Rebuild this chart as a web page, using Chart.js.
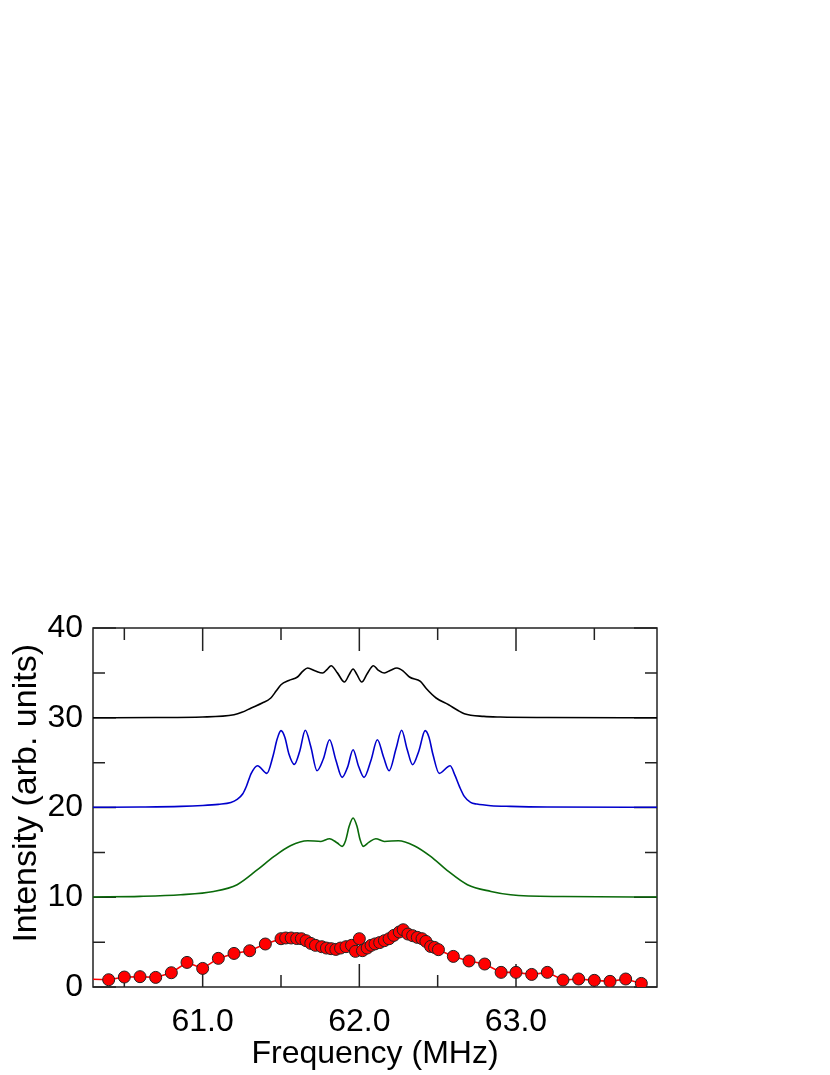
<!DOCTYPE html>
<html>
<head>
<meta charset="utf-8">
<script src="https://cdn.jsdelivr.net/npm/chart.js@4.4.0/dist/chart.umd.min.js"></script>
<style>
	html, body { margin: 0; padding: 0; background: #fff; }
	#wrap { width: 830px; height: 1075px; }
</style>
</head>
<body>
<div id="wrap"><canvas id="graphOne"></canvas></div>
<script>
// measured spectrum (red dots)
const expFreq = [60.25, 60.40, 60.50, 60.60, 60.70, 60.80, 60.90, 61.00, 61.10, 61.20, 61.30, 61.40,
	61.50, 61.53, 61.565, 61.60, 61.63, 61.66, 61.69, 61.72, 61.76, 61.79, 61.82, 61.85, 61.88,
	61.915, 61.95, 61.975, 62.00, 62.02, 62.05, 62.075, 62.10, 62.13, 62.16, 62.19, 62.22, 62.255,
	62.28, 62.31, 62.34, 62.37, 62.40, 62.425, 62.455, 62.48, 62.505, 62.60, 62.70, 62.80, 62.905,
	63.00, 63.10, 63.20, 63.30, 63.40, 63.50, 63.60, 63.70, 63.80];
const expInt = [0.9, 0.81, 1.11, 1.15, 1.07, 1.59, 2.74, 2.07, 3.19, 3.74, 4.04, 4.79,
	5.38, 5.46, 5.46, 5.40, 5.38, 5.16, 4.86, 4.64, 4.49, 4.34, 4.27, 4.19, 4.34,
	4.49, 4.64, 3.97, 5.38, 4.05, 4.34, 4.64, 4.80, 4.95, 5.16, 5.38, 5.75, 6.13,
	6.38, 5.90, 5.72, 5.53, 5.38, 5.08, 4.52, 4.41, 4.16, 3.41, 2.90, 2.56, 1.63,
	1.63, 1.40, 1.63, 0.78, 0.89, 0.74, 0.63, 0.89, 0.40];

// simulation, offset +10 (green)
const greenFreq = [60.30, 60.60, 60.86, 61.07, 61.22, 61.35, 61.456, 61.56, 61.67, 61.755, 61.81,
	61.86, 61.89, 61.912, 61.935, 61.96, 61.985, 62.005, 62.025, 62.06, 62.105, 62.16, 62.25, 62.35,
	62.455, 62.56, 62.69, 62.84, 62.965, 63.30, 63.90];
const greenInt = [10.03, 10.10, 10.28, 10.65, 11.40, 13.07, 14.55, 15.74, 16.30, 16.22, 16.52,
	16.04, 15.67, 16.30, 17.90, 18.83, 17.90, 16.40, 15.67, 16.11, 16.52, 16.22, 16.30, 15.74,
	14.55, 13.00, 11.40, 10.65, 10.28, 10.08, 10.03];

// simulation, offset +20 (blue)
const blueFreq = [60.30, 60.60, 60.86, 61.00, 61.10, 61.18, 61.22, 61.255, 61.28, 61.31, 61.35,
	61.41, 61.45, 61.475, 61.50, 61.525, 61.55, 61.585, 61.62, 61.655, 61.69, 61.73, 61.77, 61.81,
	61.85, 61.89, 61.925, 61.96, 61.995, 62.03, 62.075, 62.115, 62.155, 62.19, 62.235, 62.27,
	62.305, 62.34, 62.38, 62.42, 62.445, 62.47, 62.51, 62.58, 62.61, 62.64, 62.67, 62.71, 62.75,
	62.84, 62.965, 63.20, 63.90];
const blueInt = [20.02, 20.05, 20.12, 20.22, 20.35, 20.55, 20.90, 21.50, 22.40, 23.80, 24.66,
	23.80, 25.80, 27.60, 28.56, 27.80, 26.00, 24.80, 26.30, 28.60, 26.80, 24.10, 25.40, 27.55,
	25.30, 23.36, 24.50, 26.44, 24.60, 23.36, 25.30, 27.55, 25.60, 24.10, 26.60, 28.60,
	26.50, 24.77, 26.30, 28.56, 27.80, 25.90, 23.80, 24.66, 23.60, 22.30, 21.24, 20.57, 20.38,
	20.20, 20.12, 20.05, 20.02];

// simulation, offset +30 (black)
const blackFreq = [60.30, 60.70, 61.00, 61.20, 61.25, 61.31, 61.38, 61.435, 61.47, 61.50, 61.55,
	61.605, 61.64, 61.67, 61.72, 61.765, 61.795, 61.82, 61.86, 61.905, 61.935, 61.96, 61.985,
	62.015, 62.05, 62.09, 62.12, 62.16, 62.20, 62.24, 62.28, 62.32, 62.39, 62.43, 62.49, 62.57,
	62.63, 62.67, 62.795, 62.90, 63.20, 63.90];
const blackInt = [30.00, 30.02, 30.08, 30.34, 30.60, 31.09, 31.64, 32.20, 33.00, 33.68, 34.16,
	34.54, 35.20, 35.54, 35.20, 34.98, 35.40, 35.80, 35.00, 33.98, 34.80, 35.43, 34.80,
	33.98, 34.90, 35.80, 35.30, 34.98, 35.30, 35.54, 35.20, 34.54, 34.05, 33.20, 32.20, 31.45,
	30.80, 30.45, 30.15, 30.08, 30.03, 30.00];

const xLabels = [61, 62, 63];
const xMinor = [60.5, 61.5, 62.5, 63.5];
const yLabels = [0, 10, 20, 30, 40];
const yMinor = [5, 15, 25, 35];

const pts = (xs, ys) => xs.map((x, i) => ({ x: x, y: ys[i] }));
const FONT = "'Liberation Sans', Arial, sans-serif";

// frame + inward ticks on all four sides
const frameTicks = {
	id: 'frameTicks',
	beforeDatasetsDraw(chart) {
		const c = chart.ctx, a = chart.chartArea;
		const xs = chart.scales.x, ys = chart.scales.y;
		c.save();
		c.strokeStyle = '#222';
		c.lineWidth = 1.5;
		c.beginPath();
		const tx = (v, len) => {
			const p = xs.getPixelForValue(v);
			c.moveTo(p, a.top); c.lineTo(p, a.top + len);
			c.moveTo(p, a.bottom); c.lineTo(p, a.bottom - len);
		};
		const ty = (v, len) => {
			const p = ys.getPixelForValue(v);
			c.moveTo(a.left, p); c.lineTo(a.left + len, p);
			c.moveTo(a.right, p); c.lineTo(a.right - len, p);
		};
		xLabels.forEach(v => tx(v, 23));
		xMinor.forEach(v => tx(v, 12));
		yLabels.forEach(v => ty(v, 23));
		yMinor.forEach(v => ty(v, 12));
		c.stroke();
		c.strokeRect(a.left, a.top, a.right - a.left, a.bottom - a.top);
		c.restore();
	}
};

const ctx1 = document.getElementById('graphOne');

new Chart(ctx1, {
	type: 'scatter',
	data: {
		datasets: [{
			data: pts(blackFreq, blackInt),
			showLine: true,
			borderColor: '#000000',
			borderWidth: 1.6,
			pointRadius: 0,
			cubicInterpolationMode: 'monotone'
		}, {
			data: pts(blueFreq, blueInt),
			showLine: true,
			borderColor: '#0000cc',
			borderWidth: 1.6,
			pointRadius: 0,
			cubicInterpolationMode: 'monotone'
		}, {
			data: pts(greenFreq, greenInt),
			showLine: true,
			borderColor: '#0a6a0a',
			borderWidth: 1.6,
			pointRadius: 0,
			cubicInterpolationMode: 'monotone'
		}, {
			data: pts(expFreq, expInt),
			showLine: true,
			borderColor: '#ff0000',
			borderWidth: 1.6,
			pointRadius: 6,
			pointBackgroundColor: '#ff0000',
			pointBorderColor: '#222',
			pointBorderWidth: 1
		}]
	},

	options: {
		responsive: true,
		maintainAspectRatio: false,
		animation: false,
		layout: {
			padding: { top: 628, right: 173, left: 0, bottom: 0 }
		},
		scales: {
			x: {
				type: 'linear',
				min: 60.3,
				max: 63.9,
				afterFit: s => { s.height = 88; },
				afterBuildTicks: s => { s.ticks = xLabels.map(v => ({ value: v })); },
				grid: { display: false, drawTicks: false },
				border: { display: false },
				ticks: {
					padding: 16,
					color: '#000',
					font: { family: FONT, size: 32 },
					callback: v => v.toFixed(1)
				},
				title: {
					display: true,
					text: 'Frequency (MHz)',
					color: '#000',
					font: { family: FONT, size: 32 },
					padding: { top: 0, bottom: 2 }
				}
			},
			y: {
				min: 0,
				max: 40,
				afterFit: s => { s.width = 93; },
				afterBuildTicks: s => { s.ticks = yLabels.map(v => ({ value: v })); },
				grid: { display: false, drawTicks: false },
				border: { display: false },
				ticks: {
					padding: 10,
					color: '#000',
					font: { family: FONT, size: 32 }
				},
				title: {
					display: true,
					text: '   Intensity (arb. units)',
					color: '#000',
					font: { family: FONT, size: 34 },
					padding: { top: 6, bottom: 0 }
				}
			}
		},
		plugins: {
			legend: { display: false },
			tooltip: { enabled: false }
		}
	},
	plugins: [frameTicks]
});
</script>
</body>
</html>
